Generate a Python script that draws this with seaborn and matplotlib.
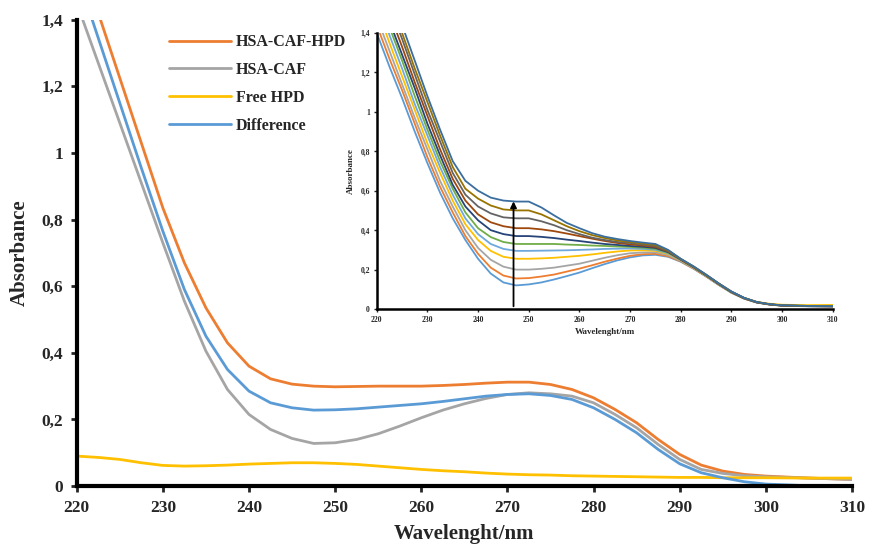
import pandas as pd
import matplotlib
matplotlib.use("Agg")
import matplotlib.pyplot as plt
import seaborn as sns
from matplotlib.ticker import FuncFormatter

# wavelength grid (nm)
wavelength = [220, 222.5, 225, 227.5, 230, 232.5, 235, 237.5, 240, 242.5, 245, 247.5,
              250, 252.5, 255, 257.5, 260, 262.5, 265, 267.5, 270, 272.5, 275, 277.5,
              280, 282.5, 285, 287.5, 290, 292.5, 295, 297.5, 300, 305, 310]

# main panel spectra
hsa_caf_hpd = [1.62, 1.42, 1.225, 1.03, 0.835, 0.67, 0.535, 0.43, 0.36, 0.322, 0.306, 0.30,
               0.298, 0.299, 0.30, 0.30, 0.30, 0.302, 0.305, 0.309, 0.312, 0.312, 0.305, 0.29,
               0.265, 0.23, 0.19, 0.14, 0.095, 0.063, 0.045, 0.035, 0.03, 0.024, 0.02]
hsa_caf = [1.45, 1.27, 1.09, 0.91, 0.73, 0.555, 0.405, 0.29, 0.215, 0.17, 0.143, 0.128,
           0.13, 0.14, 0.157, 0.18, 0.205, 0.228, 0.247, 0.263, 0.275, 0.28, 0.277, 0.27,
           0.25, 0.215, 0.175, 0.125, 0.08, 0.05, 0.038, 0.031, 0.028, 0.024, 0.02]
free_hpd = [0.09, 0.086, 0.08, 0.07, 0.062, 0.06, 0.061, 0.063, 0.066, 0.068, 0.07, 0.07,
            0.068, 0.065, 0.06, 0.055, 0.05, 0.046, 0.043, 0.039, 0.036, 0.034, 0.033, 0.031,
            0.03, 0.029, 0.028, 0.027, 0.026, 0.026, 0.025, 0.025, 0.025, 0.024, 0.024]
difference = [1.54, 1.345, 1.15, 0.955, 0.765, 0.59, 0.45, 0.35, 0.285, 0.25, 0.235, 0.228,
              0.229, 0.232, 0.237, 0.242, 0.247, 0.254, 0.262, 0.27, 0.275, 0.277, 0.272, 0.26,
              0.235, 0.20, 0.16, 0.11, 0.067, 0.04, 0.025, 0.013, 0.006, 0.001, 0.0]

series_names = ["HSA-CAF-HPD", "HSA-CAF", "Free HPD", "Difference"]
series_colors = ["#ED7D31", "#A5A5A5", "#FFC000", "#5B9BD5"]

# inset: titration spectra (increasing HPD)
titration = [
    [1.40, 1.23, 1.07, 0.90, 0.74, 0.59, 0.46, 0.35, 0.255, 0.18, 0.135, 0.12, 0.125, 0.135, 0.15, 0.167, 0.185, 0.207, 0.228, 0.247, 0.262, 0.272, 0.275, 0.265, 0.24, 0.205, 0.165, 0.122, 0.083, 0.053, 0.033, 0.023, 0.017, 0.014, 0.013],
    [1.44, 1.27, 1.11, 0.94, 0.77, 0.62, 0.49, 0.37, 0.28, 0.21, 0.17, 0.155, 0.157, 0.165, 0.175, 0.19, 0.205, 0.222, 0.24, 0.256, 0.27, 0.278, 0.28, 0.268, 0.242, 0.206, 0.166, 0.123, 0.083, 0.053, 0.033, 0.023, 0.017, 0.015, 0.014],
    [1.48, 1.31, 1.14, 0.97, 0.81, 0.65, 0.52, 0.40, 0.31, 0.25, 0.215, 0.20, 0.20, 0.204, 0.21, 0.22, 0.23, 0.245, 0.26, 0.273, 0.283, 0.287, 0.287, 0.274, 0.245, 0.208, 0.167, 0.124, 0.084, 0.054, 0.034, 0.024, 0.018, 0.015, 0.014],
    [1.53, 1.35, 1.18, 1.01, 0.84, 0.69, 0.55, 0.43, 0.35, 0.295, 0.265, 0.255, 0.255, 0.257, 0.26, 0.265, 0.27, 0.277, 0.285, 0.292, 0.297, 0.298, 0.295, 0.28, 0.248, 0.21, 0.169, 0.126, 0.086, 0.056, 0.036, 0.027, 0.022, 0.02, 0.021],
    [1.57, 1.39, 1.22, 1.04, 0.88, 0.72, 0.58, 0.46, 0.38, 0.33, 0.305, 0.295, 0.295, 0.296, 0.297, 0.298, 0.30, 0.302, 0.305, 0.306, 0.307, 0.305, 0.30, 0.283, 0.249, 0.211, 0.17, 0.126, 0.085, 0.055, 0.034, 0.024, 0.018, 0.016, 0.015],
    [1.61, 1.43, 1.26, 1.08, 0.91, 0.75, 0.61, 0.49, 0.41, 0.365, 0.34, 0.33, 0.33, 0.33, 0.33, 0.327, 0.325, 0.322, 0.32, 0.317, 0.315, 0.311, 0.305, 0.286, 0.25, 0.212, 0.17, 0.126, 0.085, 0.055, 0.034, 0.024, 0.018, 0.016, 0.015],
    [1.65, 1.46, 1.29, 1.12, 0.94, 0.78, 0.63, 0.52, 0.45, 0.40, 0.38, 0.37, 0.37, 0.366, 0.36, 0.352, 0.345, 0.337, 0.33, 0.325, 0.32, 0.316, 0.31, 0.289, 0.251, 0.213, 0.171, 0.127, 0.086, 0.055, 0.034, 0.024, 0.018, 0.015, 0.014],
    [1.69, 1.50, 1.33, 1.15, 0.98, 0.81, 0.66, 0.55, 0.48, 0.44, 0.42, 0.41, 0.41, 0.404, 0.395, 0.383, 0.37, 0.357, 0.345, 0.335, 0.328, 0.322, 0.315, 0.292, 0.252, 0.214, 0.172, 0.128, 0.087, 0.056, 0.035, 0.024, 0.018, 0.015, 0.014],
    [1.74, 1.54, 1.37, 1.19, 1.01, 0.85, 0.69, 0.58, 0.52, 0.485, 0.465, 0.46, 0.46, 0.445, 0.425, 0.40, 0.38, 0.362, 0.35, 0.34, 0.335, 0.327, 0.32, 0.295, 0.253, 0.215, 0.173, 0.129, 0.088, 0.056, 0.035, 0.024, 0.018, 0.015, 0.014],
    [1.78, 1.58, 1.40, 1.22, 1.05, 0.88, 0.72, 0.61, 0.56, 0.525, 0.505, 0.50, 0.50, 0.48, 0.45, 0.42, 0.395, 0.375, 0.36, 0.348, 0.34, 0.332, 0.325, 0.298, 0.254, 0.216, 0.174, 0.13, 0.089, 0.057, 0.036, 0.025, 0.019, 0.016, 0.015],
    [1.82, 1.62, 1.44, 1.26, 1.08, 0.91, 0.75, 0.65, 0.60, 0.565, 0.55, 0.545, 0.545, 0.515, 0.475, 0.437, 0.41, 0.385, 0.367, 0.355, 0.345, 0.337, 0.33, 0.30, 0.255, 0.217, 0.175, 0.13, 0.089, 0.057, 0.036, 0.025, 0.019, 0.016, 0.015],
]
titration_colors = ["#5B9BD5", "#ED7D31", "#A5A5A5", "#FFC000", "#6FA8DC", "#70AD47",
                    "#264478", "#9E480E", "#636363", "#997300", "#3A6E9E"]

x_ticks = [220, 230, 240, 250, 260, 270, 280, 290, 300, 310]
y_ticks = [0, 0.2, 0.4, 0.6, 0.8, 1.0, 1.2, 1.4]

sns.set_style("ticks")
plt.rcParams['font.family'] = ['Liberation Serif', 'DejaVu Serif']
plt.rcParams['font.weight'] = 'bold'
plt.rcParams['lines.solid_joinstyle'] = 'round'
plt.rcParams['lines.solid_capstyle'] = 'round'

comma = FuncFormatter(lambda v, p: ("%g" % round(v, 1)).replace(".", ","))

fig = plt.figure(figsize=(8.72, 5.48), dpi=100)
ax = fig.add_axes([0.088, 0.113, 0.889, 0.851])

main_df = pd.DataFrame({
    "wavelength": wavelength * 4,
    "absorbance": hsa_caf_hpd + hsa_caf + free_hpd + difference,
    "series": sum([[n] * len(wavelength) for n in series_names], []),
})
sns.lineplot(data=main_df, x="wavelength", y="absorbance", hue="series",
             hue_order=series_names, palette=dict(zip(series_names, series_colors)),
             linewidth=2.0, ax=ax)

ax.set_xlim(220, 310)
ax.set_ylim(0, 1.4)
ax.set_xticks(x_ticks)
ax.set_yticks(y_ticks)
ax.yaxis.set_major_formatter(comma)
ax.tick_params(labelsize=12.5, width=2, length=4, pad=6)
for lab in ax.get_xticklabels() + ax.get_yticklabels():
    lab.set_fontweight('bold')
ax.set_xlabel("Wavelenght/nm", fontsize=15, fontweight='bold', labelpad=6)
ax.set_ylabel("Absorbance", fontsize=15, fontweight='bold', labelpad=8)
for s in ["top", "right"]:
    ax.spines[s].set_visible(False)
for s in ["left", "bottom"]:
    ax.spines[s].set_linewidth(3)
    ax.spines[s].set_color("black")

leg = ax.legend(loc="upper left", bbox_to_anchor=(0.1, 1.0), frameon=False,
                prop={'family': 'Liberation Serif', 'weight': 'bold', 'size': 11.5},
                handlelength=3.9, handletextpad=0.3, labelspacing=0.75)
for line in leg.get_lines():
    line.set_linewidth(2.0)

# inset
ins = fig.add_axes([0.432, 0.436, 0.523, 0.504])
ins_df = pd.DataFrame({
    "wavelength": wavelength * len(titration),
    "absorbance": sum(titration, []),
    "step": sum([[i] * len(wavelength) for i in range(len(titration))], []),
})
sns.lineplot(data=ins_df, x="wavelength", y="absorbance", hue="step",
             palette=titration_colors, linewidth=1.3, legend=False, ax=ins)
ins.annotate("", xy=(247, 0.56), xytext=(247, 0),
             arrowprops=dict(arrowstyle="-|>", color="black", lw=1.3, mutation_scale=9))
ins.set_xlim(220, 310)
ins.set_ylim(0, 1.4)
ins.set_xticks(x_ticks)
ins.set_yticks(y_ticks)
ins.yaxis.set_major_formatter(comma)
ins.tick_params(labelsize=5.5, width=1, length=2, pad=3)
for lab in ins.get_xticklabels() + ins.get_yticklabels():
    lab.set_fontweight('bold')
ins.set_xlabel("Wavelenght/nm", fontsize=6.5, fontweight='bold', labelpad=3)
ins.set_ylabel("Absorbance", fontsize=6.5, fontweight='bold', labelpad=4)
ins.patch.set_alpha(0)
for s in ["top", "right"]:
    ins.spines[s].set_visible(False)
for s in ["left", "bottom"]:
    ins.spines[s].set_linewidth(1.8)
    ins.spines[s].set_color("black")

fig.savefig("out.png", dpi=100)
